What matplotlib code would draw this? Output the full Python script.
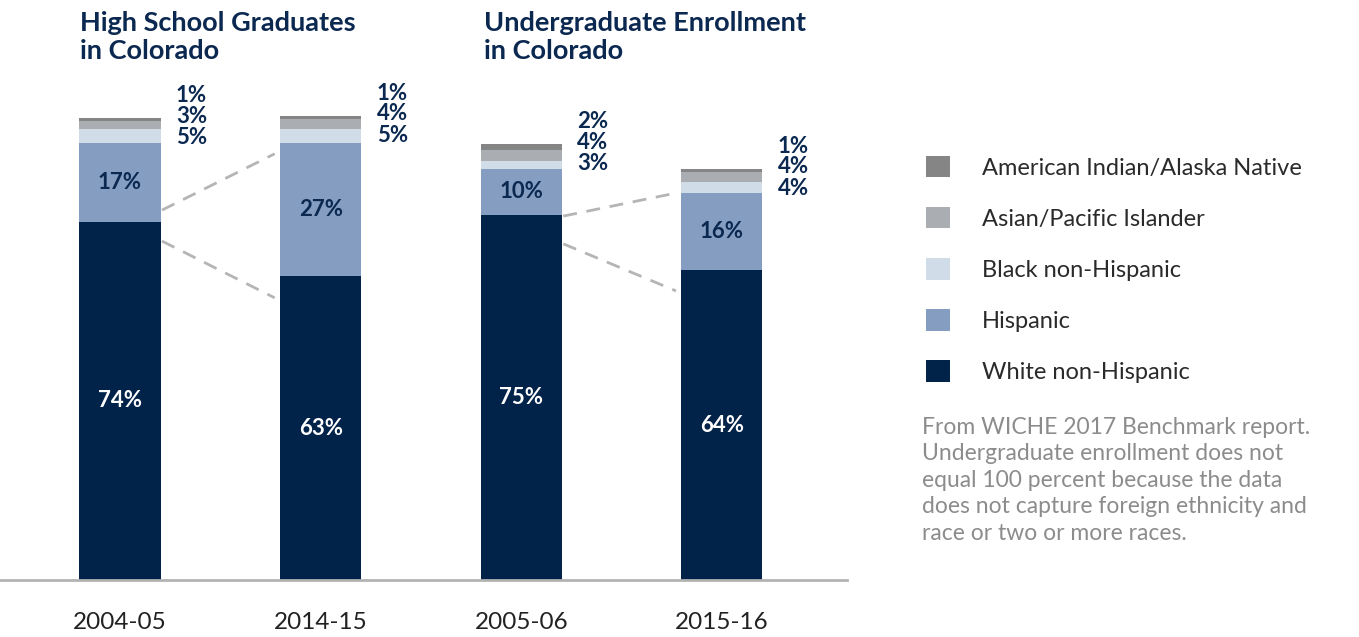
import matplotlib.pyplot as plt
import numpy as np

# bar data (share of total, %)
years = ['2004-05', '2014-15', '2005-06', '2015-16']
white = [77.6, 65.8, 79.1, 67.1]
hisp = [17.1, 28.9, 10.0, 16.7]
black = [3.0, 3.0, 1.7, 2.4]
asian = [1.8, 2.2, 2.4, 2.2]
aian = [0.5, 0.65, 1.15, 0.65]

# printed labels
white_lbl = [74, 63, 75, 64]
hisp_lbl = [17, 27, 10, 16]
black_lbl = [5, 5, 3, 4]
asian_lbl = [3, 4, 4, 4]
aian_lbl = [1, 1, 2, 1]

groups = ['American Indian/Alaska Native', 'Asian/Pacific Islander',
          'Black non-Hispanic', 'Hispanic', 'White non-Hispanic']
colors = ['#858585', '#aaaeb2', '#d0dde9', '#849dc1', '#012249']
navy = '#0b2850'

# dashed connector lines between bar pairs (y in %)
conn_pairs = [(0, 1), (2, 3)]
conn_upper = [(80.1, 92.3), (78.8, 83.8)]
conn_lower = [(73.4, 61.1), (72.8, 62.6)]

title1 = 'High School Graduates\nin Colorado'
title2 = 'Undergraduate Enrollment\nin Colorado'
note = ('From WICHE 2017 Benchmark report.\nUndergraduate enrollment does not\n'
        'equal 100 percent because the data\ndoes not capture foreign ethnicity and\n'
        'race or two or more races.')

plt.rcParams['font.family'] = ['Lato', 'DejaVu Sans']

W, H = 1359, 637
fig = plt.figure(figsize=(W/100, H/100), dpi=100)
ax = fig.add_axes([0, 57/H, 847/W, 580/H])

x = np.arange(len(years))
bw = 0.4037
stack = [white, hisp, black, asian, aian]
cols = colors[::-1]
bottom = np.zeros(len(years))
bars = []
for vals, c in zip(stack, cols):
    b = ax.bar(x, vals, bw, bottom=bottom, color=c, linewidth=0)
    bars.append(b)
    bottom = bottom + np.array(vals)
top = bottom

lw = 'bold'
# labels inside and beside the bars
for i in range(len(years)):
    ax.text(x[i], white[i]/2, f'{white_lbl[i]}%', ha='center', va='center',
            color='white', fontsize=16, fontweight=lw)
    ax.text(x[i], white[i] + hisp[i]/2, f'{hisp_lbl[i]}%', ha='center', va='center',
            color=navy, fontsize=16, fontweight=lw)
    lx = x[i] + 0.279
    ax.text(lx, top[i] + 4.9, f'{aian_lbl[i]}%', ha='left', va='center',
            color=navy, fontsize=16, fontweight=lw)
    ax.text(lx, top[i] + 0.4, f'{asian_lbl[i]}%', ha='left', va='center',
            color=navy, fontsize=16, fontweight=lw)
    ax.text(lx, top[i] - 4.2, f'{black_lbl[i]}%', ha='left', va='center',
            color=navy, fontsize=16, fontweight=lw)

for (a, b), up, lo in zip(conn_pairs, conn_upper, conn_lower):
    xs = [x[a] + 0.209, x[b] - 0.229]
    ax.plot(xs, up, color='#b5b5b5', lw=2, dashes=(5, 3.5))
    ax.plot(xs, lo, color='#b5b5b5', lw=2, dashes=(5, 3.5))

ax.set_xlim(-0.598, 3.623)
ax.set_ylim(0, 125.6)
ax.set_xticks(x)
ax.set_xticklabels(years, fontsize=17.5, color='#222222')
ax.tick_params(axis='x', length=0, pad=23)
ax.set_yticks([])
for s in ['top', 'left', 'right']:
    ax.spines[s].set_visible(False)
ax.spines['bottom'].set_color('#b3b3b3')
ax.spines['bottom'].set_linewidth(2)

fig.text(80/W, 1 - 11/H, title1, ha='left', va='top', fontsize=19.5,
         fontweight=lw, color=navy, linespacing=1.2)
fig.text(484/W, 1 - 11/H, title2, ha='left', va='top', fontsize=19.5,
         fontweight=lw, color=navy, linespacing=1.2)

leg = fig.legend([bars[k] for k in range(4, -1, -1)], groups,
                 loc='upper left', bbox_to_anchor=(914/W, 1 - 144/H),
                 frameon=False, fontsize=17, handlelength=1.02, handleheight=1.02,
                 handletextpad=1.35, labelspacing=1.2, borderpad=0)
for t in leg.get_texts():
    t.set_color('#2a2a2a')

fig.text(922/W, 1 - 417/H, note, ha='left', va='top', fontsize=16.5,
         color='#8c8c8c', linespacing=1.32)

fig.savefig('out.png', dpi=100)
